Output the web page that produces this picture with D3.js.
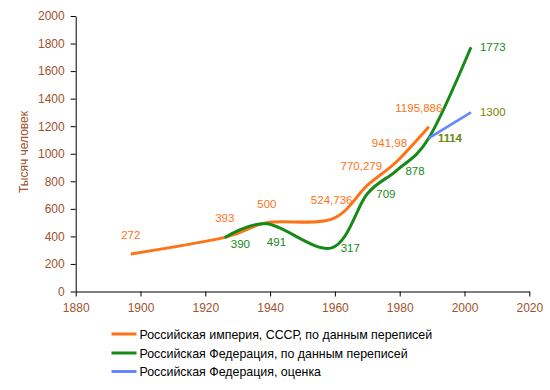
<!DOCTYPE html>
<html><head><meta charset="utf-8">
<script src="https://cdn.jsdelivr.net/npm/d3@7"></script>
<style>body{margin:0;background:#fff}svg{display:block;font-family:"Liberation Sans",Arial,sans-serif}</style>
</head><body><svg id="c" width="550" height="390"></svg>
<script>
const ussrYears = [1897, 1926, 1939, 1959, 1970, 1979, 1989];
const ussrValues = [272, 393, 500, 524.736, 770.279, 941.98, 1195.886];
const ussrLabels = ["272", "393", "500", "524,736", "770,279", "941,98", "1195,886"];
const rfYears = [1926, 1939, 1959, 1970, 1979, 1989, 2002];
const rfValues = [390, 491, 317, 709, 878, 1114, 1773];
const rfLabels = ["390", "491", "317", "709", "878", "1114", "1773"];
const estYears = [1989, 2002];
const estValues = [1114, 1300];
const estLabels = ["1114", "1300"];
const xTicks = [1880, 1900, 1920, 1940, 1960, 1980, 2000, 2020];
const yTicks = [0, 200, 400, 600, 800, 1000, 1200, 1400, 1600, 1800, 2000];
const legendNames = ["Российская империя, СССР, по данным переписей", "Российская Федерация, по данным переписей", "Российская Федерация, оценка"];

const C_ORANGE = "#ff7317", C_GREEN = "#168a16", C_BLUE = "#6688ff", C_OLIVE = "#808000", C_AXIS = "#a0522d";
const svg = d3.select("#c");
const x = d3.scaleLinear().domain([1880, 2020]).range([75.7, 529.3]);
const y = d3.scaleLinear().domain([0, 2000]).range([291.5, 16]);

const xAxis = svg.append("g").attr("transform", "translate(0,291.5)")
  .call(d3.axisBottom(x).tickValues(xTicks).tickFormat(d3.format("d")).tickSize(5).tickSizeOuter(0).tickPadding(7));
const yAxis = svg.append("g").attr("transform", "translate(75.7,0)")
  .call(d3.axisLeft(y).tickValues(yTicks).tickFormat(d3.format("d")).tickSize(5).tickSizeOuter(0).tickPadding(6));
[xAxis, yAxis].forEach(a => {
  a.selectAll("path,line").attr("stroke", "#000").attr("stroke-width", 1);
  a.selectAll("text").attr("fill", C_AXIS).attr("font-size", 12).attr("font-family", "Liberation Sans, Arial, sans-serif");
});

svg.append("text").attr("transform", "translate(28,152) rotate(-90)").attr("text-anchor", "middle")
  .attr("fill", C_AXIS).attr("font-size", 12).text("Тысяч человек");

const line = d3.line().x(d => x(d[0])).y(d => y(d[1])).curve(d3.curveCardinal.tension(0));
const series = [
  {years: ussrYears, vals: ussrValues, color: C_ORANGE, w: 3},
  {years: rfYears, vals: rfValues, color: C_GREEN, w: 3},
  {years: estYears, vals: estValues, color: C_BLUE, w: 2.6}
];
series.forEach(s => {
  svg.append("path").datum(s.years.map((yr, i) => [yr, s.vals[i]]))
    .attr("d", line).attr("fill", "none").attr("stroke", s.color).attr("stroke-width", s.w)
    .attr("stroke-linejoin", "round").attr("stroke-linecap", "butt");
});

// labels
const LF = 11.5;
const ussrShift = [0, 0, 0, 0, -6, -7, -10];
ussrYears.forEach((yr, i) => {
  svg.append("text").attr("x", x(yr) + ussrShift[i]).attr("y", y(ussrValues[i]) - 15)
    .attr("text-anchor", "middle").attr("font-size", LF).attr("fill", C_ORANGE).text(ussrLabels[i]);
});
rfYears.forEach((yr, i) => {
  let px = x(yr) + 9, py = y(rfValues[i]) + 4;
  if (yr === 1926) { px = x(yr) + 6; py = y(rfValues[i]) + 10; }
  if (yr === 1939) { px = x(yr); py = y(rfValues[i]) + 22; }
  if (yr === 1989) return;
  svg.append("text").attr("x", px).attr("y", py)
    .attr("font-size", LF).attr("fill", C_GREEN).text(rfLabels[i]);
});
svg.append("text").attr("x", x(1989) + 9.5).attr("y", y(1114) + 4).attr("font-size", LF).attr("fill", C_GREEN).text("1114");
estYears.forEach((yr, i) => {
  svg.append("text").attr("x", x(yr) + 9).attr("y", y(estValues[i]) + 4)
    .attr("font-size", LF).attr("fill", C_OLIVE).text(estLabels[i]);
});

// legend
const legColors = [C_ORANGE, C_GREEN, C_BLUE];
const legY = [334, 353, 371.5];
legendNames.forEach((n, i) => {
  svg.append("line").attr("x1", 111.5).attr("x2", 136.5).attr("y1", legY[i]).attr("y2", legY[i])
    .attr("stroke", legColors[i]).attr("stroke-width", 3);
  svg.append("text").attr("x", 139.5).attr("y", legY[i] + 4.5).attr("font-size", 12.4).attr("fill", "#000").text(n);
});
</script></body></html>
